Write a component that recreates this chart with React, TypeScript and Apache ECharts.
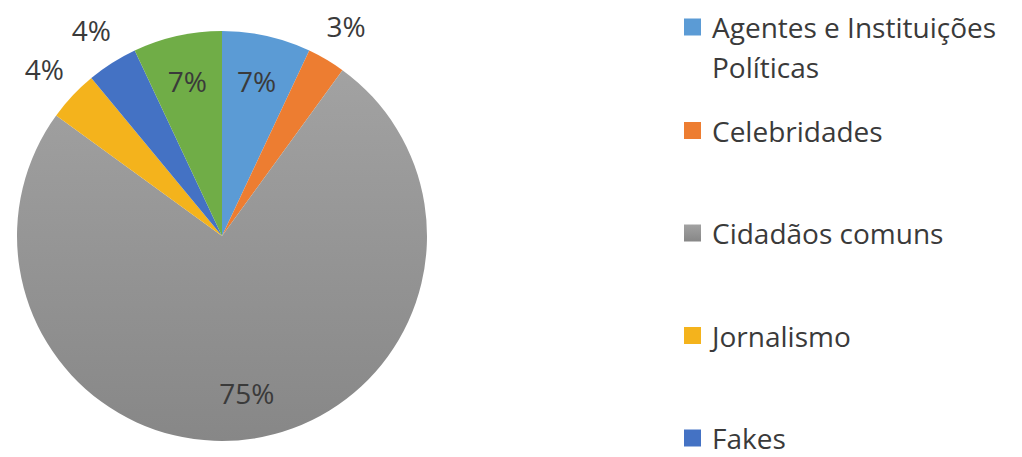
import React, { useEffect, useRef } from "react";
import * as echarts from "echarts";

// Shares of mentions by actor type
const categories = [
  "Agentes e Instituições\nPolíticas",
  "Celebridades",
  "Cidadãos comuns",
  "Jornalismo",
  "Fakes",
  "Outros",
];
const shares = [7, 3, 75, 4, 4, 7];
const sliceColors = ["#5B9BD5", "#ED7D31", "#9a9a9a", "#F4B31C", "#4472C4", "#70AD47"];
const legendNames = categories.slice(0, 5);

const FONT = "'Open Sans', 'Noto Sans', sans-serif";
const TEXT_COLOR = "#3a3a3a";

export default function App() {
  const ref = useRef<HTMLDivElement>(null);

  useEffect(() => {
    if (!ref.current) return;
    const chart = echarts.init(ref.current, undefined, { renderer: "svg" });

    const center = [222, 236];
    const R = 205;

    const grayFill = new echarts.graphic.LinearGradient(0, 0, 0, 1, [
      { offset: 0, color: "#a2a2a2" },
      { offset: 1, color: "#878787" },
    ]);

    const baseData = categories.map((name, i) => ({
      name,
      value: shares[i],
      itemStyle: { color: i === 2 ? grayFill : sliceColors[i] },
    }));

    const labelStyle = {
      position: "inside" as const,
      rotate: 0,
      formatter: "{c}%",
      fontFamily: FONT,
      fontSize: 28,
      color: TEXT_COLOR,
    };

    // Transparent ring whose mid-radius carries the value labels
    const labelRing = (radius: number[], showFn: (v: number) => boolean) => ({
      type: "pie",
      center,
      radius,
      silent: true,
      avoidLabelOverlap: false,
      labelLine: { show: false },
      emphasis: { disabled: true },
      itemStyle: { color: "rgba(0,0,0,0)", borderWidth: 0 },
      label: labelStyle,
      data: categories.map((name, i) => ({
        name,
        value: shares[i],
        label: { show: showFn(shares[i]) },
      })),
    });

    // One legend block per entry so each swatch sits beside its first text line
    const legendTop0 = 27;
    const legendStep = 102.5;
    const lineH = 40;
    const singleH = 26;
    const legends = legendNames.map((name, i) => {
      const c = legendTop0 + legendStep * i;
      const multi = name.includes("\n");
      return {
        data: [name],
        orient: "vertical",
        left: 684,
        top: multi ? c - lineH * 1.5 : c - singleH / 2,
        padding: 0,
        itemGap: 0,
        itemWidth: 17,
        itemHeight: 17,
        icon: "rect",
        selectedMode: false,
        // a leading blank line keeps the swatch level with the first line
        formatter: (n: string) => (n.includes("\n") ? "\n" + n : n),
        textStyle: {
          fontFamily: FONT,
          fontSize: 28,
          lineHeight: multi ? lineH : singleH,
          color: TEXT_COLOR,
          padding: [0, 0, 0, 6],
        },
      };
    });

    chart.setOption({
      animation: false,
      backgroundColor: "#ffffff",
      legend: legends,
      series: [
        {
          type: "pie",
          center,
          radius: [0, R],
          startAngle: 90,
          clockwise: true,
          label: { show: false },
          labelLine: { show: false },
          emphasis: { disabled: true },
          itemStyle: { borderWidth: 0 },
          data: baseData,
        },
        labelRing([R * 0.52, R], (v) => v >= 5),
        labelRing([R * 1.06, R * 1.29], (v) => v < 5),
      ],
    });

    return () => chart.dispose();
  }, []);

  return (
    <div
      ref={ref}
      style={{ position: "fixed", left: 0, top: 0, width: 1022, height: 457 }}
    />
  );
}
